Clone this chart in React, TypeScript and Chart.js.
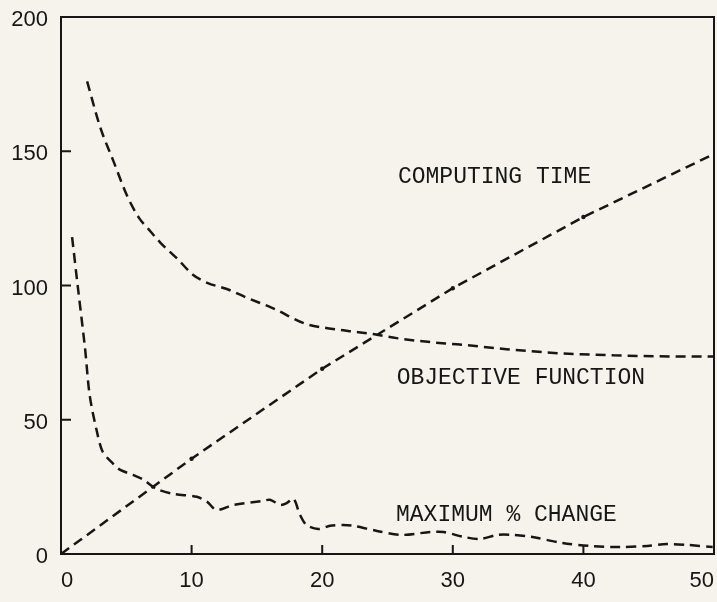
import React, { useEffect, useRef } from "react";
import { Chart, registerables } from "chart.js";

Chart.register(...registerables);

// ---- data ----
const xTicks = [0, 10, 20, 30, 40, 50];
const yTicks = [0, 50, 100, 150, 200];

const computingX = [0, 10, 20, 30, 40, 50];
const computingY = [0, 35.5, 69, 99, 125.5, 149];

const objectiveX = [2.0, 3.0, 4.0, 5.1, 6.0, 6.7, 7.6, 8.9, 10.1, 11.2, 12.7, 14.2, 16.2, 18.8, 20.4, 22.1, 23.9, 25.7, 28.3, 30.3, 34.1, 38.0, 42.3, 46.9, 50];
const objectiveY = [176, 159, 146.5, 133, 125, 121, 116, 110, 104, 101, 98.7, 95.5, 91.6, 85.6, 84.1, 83, 81.9, 80.4, 78.9, 78.1, 76.3, 74.8, 74, 73.6, 73.6];

const maxChangeX = [0.85, 1.3, 1.84, 2.2, 2.75, 3.2, 4.0, 4.5, 5.5, 6.3, 7.3, 8.6, 10.4, 11.2, 11.9, 13.2, 15.5, 16.0, 16.8, 17.3, 17.8, 18.3, 18.8, 19.7, 20.6, 21.6, 22.4, 24.2, 26.0, 28.3, 29.3, 30.8, 32.1, 33.4, 34.6, 36.0, 38.4, 40.5, 42.8, 44.9, 46.4, 47.9, 49.9];
const maxChangeY = [118, 99, 76.6, 59, 45.6, 38, 33.6, 31.4, 29.5, 27.7, 24.3, 22.4, 21.3, 19.4, 16.4, 18.3, 19.8, 20.2, 18.3, 19, 20.6, 14.6, 10.8, 9.3, 10.5, 10.8, 10.5, 8.6, 7.1, 8.2, 8.2, 6.4, 5.6, 7.1, 7.1, 6.4, 4.1, 3.0, 2.6, 3.0, 3.7, 3.4, 2.6];

const labelTexts = ["COMPUTING TIME", "OBJECTIVE FUNCTION", "MAXIMUM % CHANGE"];
const labelX = [25.8, 25.7, 25.65];
const labelY = [140.5, 65.4, 14.6];

const INK = "#161616";
const PAPER = "#f5f3ec";

const zip = (xs: number[], ys: number[]) => xs.map((x, i) => ({ x, y: ys[i] }));

const framePlugin = {
  id: "frameAndTicks",
  afterDraw(chart: any) {
    const { ctx, chartArea, scales } = chart;
    const { left, right, top, bottom } = chartArea;
    ctx.save();
    ctx.strokeStyle = INK;
    ctx.lineWidth = 2;
    ctx.setLineDash([]);
    ctx.strokeRect(left, top, right - left, bottom - top);
    ctx.beginPath();
    xTicks.forEach((v) => {
      const px = scales.x.getPixelForValue(v);
      ctx.moveTo(px, bottom);
      ctx.lineTo(px, bottom - 9);
    });
    yTicks.forEach((v) => {
      const py = scales.y.getPixelForValue(v);
      ctx.moveTo(left, py);
      ctx.lineTo(left + 10, py);
    });
    ctx.stroke();
    ctx.fillStyle = INK;
    ctx.font = '23px "Liberation Mono"';
    ctx.textBaseline = "middle";
    ctx.textAlign = "left";
    labelTexts.forEach((t, i) => {
      ctx.fillText(t, scales.x.getPixelForValue(labelX[i]), scales.y.getPixelForValue(labelY[i]));
    });
    ctx.restore();
  },
};

export default function App() {
  const ref = useRef<HTMLCanvasElement | null>(null);

  useEffect(() => {
    document.body.style.background = PAPER;
    const canvas = ref.current;
    if (!canvas) return;
    const common = {
      borderColor: INK,
      borderWidth: 2.5,
      borderDash: [10, 6],
      fill: false,
      showLine: true,
    };
    const chart = new Chart(canvas, {
      type: "scatter",
      data: {
        datasets: [
          {
            ...common,
            label: "Computing time",
            data: zip(computingX, computingY),
            tension: 0,
            pointRadius: [0, 2.2, 2.2, 2.2, 2.2, 0],
            pointBackgroundColor: INK,
            pointBorderWidth: 0,
          },
          {
            ...common,
            label: "Objective function",
            data: zip(objectiveX, objectiveY),
            cubicInterpolationMode: "monotone",
            pointRadius: 0,
          },
          {
            ...common,
            label: "Maximum % change",
            data: zip(maxChangeX, maxChangeY),
            tension: 0.3,
            pointRadius: 0,
          },
        ],
      },
      options: {
        animation: false,
        responsive: true,
        maintainAspectRatio: false,
        layout: { padding: { top: 17, right: 3, left: 0, bottom: 0 } },
        plugins: {
          legend: { display: false },
          tooltip: { enabled: false },
        },
        scales: {
          x: {
            type: "linear",
            min: 0,
            max: 50,
            grid: { display: false, drawTicks: false },
            border: { display: false },
            afterBuildTicks: (s: any) => {
              s.ticks = xTicks.map((v) => ({ value: v }));
            },
            afterFit: (s: any) => {
              s.height = 48;
              s.paddingLeft = 0;
              s.paddingRight = 0;
              s.paddingTop = 0;
              s.paddingBottom = 0;
            },
            ticks: {
              color: INK,
              padding: 14,
              align: "inner",
              font: { family: '"Liberation Sans"', size: 22 },
            },
          },
          y: {
            type: "linear",
            min: 0,
            max: 200,
            grid: { display: false, drawTicks: false },
            border: { display: false },
            afterBuildTicks: (s: any) => {
              s.ticks = yTicks.map((v) => ({ value: v }));
            },
            afterFit: (s: any) => {
              s.width = 61;
              s.paddingLeft = 0;
              s.paddingRight = 0;
              s.paddingTop = 0;
              s.paddingBottom = 0;
            },
            ticks: {
              color: INK,
              padding: 13,
              labelOffset: 3,
              font: { family: '"Liberation Sans"', size: 22 },
            },
          },
        },
      },
      plugins: [framePlugin],
    } as any);
    return () => chart.destroy();
  }, []);

  return (
    <div style={{ position: "absolute", left: 0, top: 0, width: 717, height: 602, background: PAPER }}>
      <canvas ref={ref} />
    </div>
  );
}
